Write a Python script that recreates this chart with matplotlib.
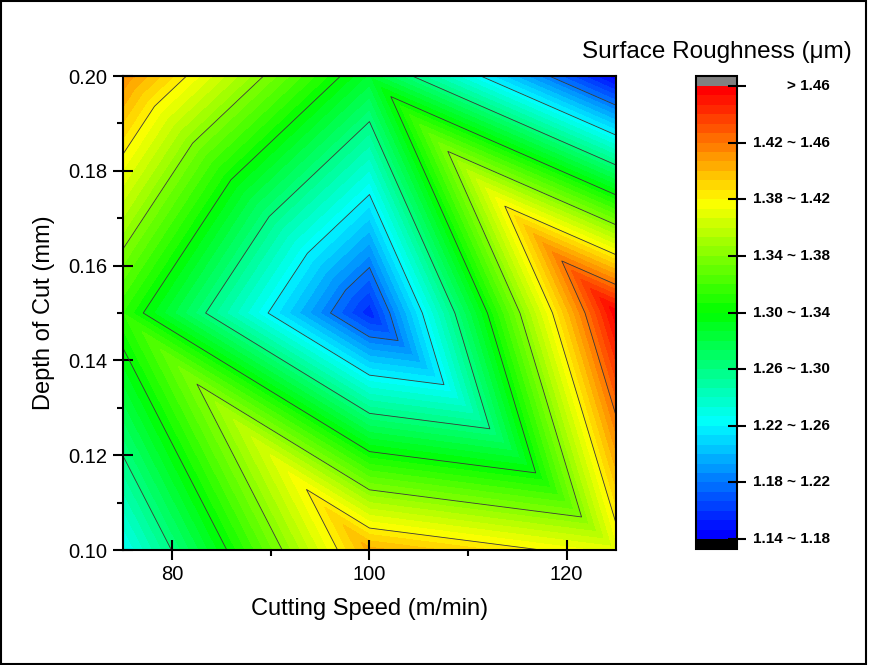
import numpy as np
import matplotlib
matplotlib.use('Agg')
from matplotlib import pyplot
from matplotlib import tri
from matplotlib import transforms
from matplotlib.colors import LinearSegmentedColormap, ListedColormap
from matplotlib.patches import Rectangle
from matplotlib.ticker import MultipleLocator

pyplot.rcParams['font.family'] = ['Liberation Sans', 'DejaVu Sans']

# cutting speed (m/min), depth of cut (mm), measured roughness (um)
speed = [75, 100, 125]
depth = [0.10, 0.15, 0.20]
roughness = [
    [1.225, 1.403, 1.370],   # depth 0.10
    [1.313, 1.155, 1.458],   # depth 0.15
    [1.413, 1.285, 1.141],   # depth 0.20
]

major_levels = [1.14, 1.18, 1.22, 1.26, 1.30, 1.34, 1.38, 1.42, 1.46]
band_labels = ['1.14 ~ 1.18', '1.18 ~ 1.22', '1.22 ~ 1.26', '1.26 ~ 1.30',
               '1.30 ~ 1.34', '1.34 ~ 1.38', '1.38 ~ 1.42', '1.42 ~ 1.46',
               '> 1.46']


def Grid():
    xs, ys, zs = [], [], []
    for j, d in enumerate(depth):
        for i, s in enumerate(speed):
            xs.append(s)
            ys.append(d)
            zs.append(roughness[j][i])
    # each cell split along the top-left / bottom-right diagonal
    triangles = []
    n = len(speed)
    for j in range(len(depth) - 1):
        for i in range(n - 1):
            ll = j * n + i
            lr = ll + 1
            tl = ll + n
            tr = tl + 1
            triangles.append([ll, lr, tl])
            triangles.append([lr, tr, tl])
    return tri.Triangulation(xs, ys, triangles), np.array(zs)


def Rainbow():
    base = LinearSegmentedColormap.from_list(
        'rb', ['#0000ff', '#00ffff', '#00ff00', '#ffff00', '#ff0000'])
    nbands = (len(major_levels) - 1) * 6
    cmap = ListedColormap(base(np.linspace(0, 1, nbands)))
    cmap.set_under('black')
    cmap.set_over('#808080')
    return cmap


fig = pyplot.figure(figsize=(8.69, 6.65), dpi=100)
fig.patches.append(Rectangle((0.0017, 0.0017), 0.995, 0.9966, transform=fig.transFigure,
                             fill=False, edgecolor='black', linewidth=1.5))

ax = fig.add_axes([0.1415, 0.1729, 0.5673, 0.7128])
triang, z = Grid()
fill_levels = np.linspace(major_levels[0], major_levels[-1], (len(major_levels) - 1) * 6 + 1)
cs = ax.tricontourf(triang, z, levels=fill_levels, cmap=Rainbow(), extend='both')
ax.tricontour(triang, z, levels=major_levels, colors='#3a3a3a', linewidths=0.6)

ax.set_xlim(75, 125)
ax.set_ylim(0.10, 0.20)
ax.xaxis.set_major_locator(MultipleLocator(20))
ax.xaxis.set_minor_locator(MultipleLocator(10))
ax.yaxis.set_major_locator(MultipleLocator(0.02))
ax.yaxis.set_minor_locator(MultipleLocator(0.01))
ax.yaxis.set_major_formatter(matplotlib.ticker.FormatStrFormatter('%.2f'))
ax.tick_params(which='major', direction='inout', length=14, width=1.5, labelsize=14.5, pad=4)
ax.tick_params(which='minor', direction='out', length=4, width=1.5)
for sp in ax.spines.values():
    sp.set_linewidth(1.5)
ax.set_xlabel('Cutting Speed (m/min)', fontsize=17, labelpad=10)
ax.set_ylabel('Depth of Cut (mm)', fontsize=17, labelpad=10)

cax = fig.add_axes([0.8009, 0.1744, 0.0472, 0.7113])
cb = fig.colorbar(cs, cax=cax, extend='both', extendrect=True, extendfrac=0.022)
cb.outline.set_linewidth(1.5)
cb.set_ticks(major_levels)
cax.minorticks_off()
cax.tick_params(direction='inout', length=13, width=1.5, labelright=False)
trans = transforms.blended_transform_factory(cax.transAxes, cax.transData)
for level, label in zip(major_levels, band_labels):
    cax.text(3.27, level, label, transform=trans, ha='right', va='center',
             fontsize=11, fontweight='bold')
cax.text(0.5, 1.062, 'Surface Roughness (\u03bcm)', transform=cax.transAxes,
         ha='center', va='baseline', fontsize=17.5)

fig.savefig('out.png', dpi=100)
